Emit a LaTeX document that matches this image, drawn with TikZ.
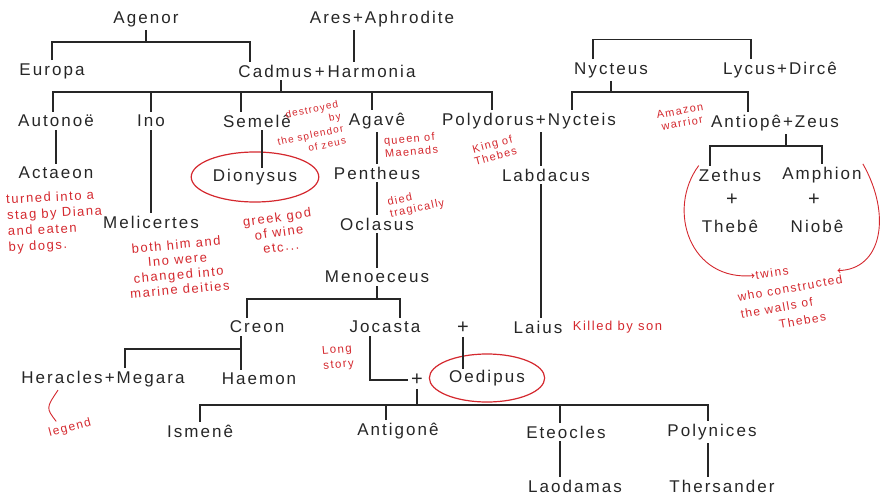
\documentclass[tikz,border=0pt]{standalone}
\usepackage{fontspec}
\usepackage{tikz}
\usetikzlibrary{shapes.geometric,positioning}
\newfontfamily\handfont[LetterSpace=12]{Liberation Sans}
\newfontfamily\notefont[LetterSpace=12]{Liberation Sans}
\definecolor{ink}{RGB}{38,38,38}
\definecolor{pen}{RGB}{212,40,46}
\newcommand*{\couple}[2]{#1+#2}
\newcommand*{\notesize}[2]{\notefont\fontsize{#1}{#2}\selectfont}

\begin{document}
\begin{tikzpicture}[x=1pt, y=-1pt,
    tree/.style={draw=ink, line width=1.1pt},
    noteline/.style={draw=pen, line width=0.9pt},
    ring/.style={ellipse, draw=pen, line width=1.2pt}]
  \useasboundingbox (0,0) rectangle (880,500);

        {\tikzstyle{every node}=[font=\handfont\fontsize{17}{20}\selectfont, text=ink, inner sep=3pt]
          \node (agenor) at (146,19) {Agenor};
          \node (ares) at (382,19) {\couple{Ares}{Aphrodite}};
          \node (europa) at (52,71) {Europa};
          \node (cadmus) at (327,71) {\couple{Cadmus\,}{\,Harmonia}};
          \node (nycteus) at (611,70) {Nycteus};
          \node (lycus) at (780,70) {\couple{Lycus}{Dircê}};

          \node (autonoe) at (56,121) {Autonoë};
          \node (ino) at (151,121) {Ino};
          \node (semele) at (257,121) {Semelê};
          \node (agave) at (377,121) {Agavê};
          \node (polydorus) at (529,121) {\couple{Polydorus}{Nycteis}};
          \node (antiope) at (775,123) {\couple{Antiopê}{Zeus}};

          \node (actaeon) at (56,173) {Actaeon};
          \node[ring, minimum width=112pt, minimum height=50pt] (dionysus) at (255,177) {Dionysus};
          \node (pentheus) at (377,173) {Pentheus};
          \node (labdacus) at (546,175) {Labdacus};
          \node (zethus) at (730,175) {Zethus};
          \node (amphion) at (822,175) {Amphion};
          \node[font=\handfont\fontsize{20}{20}\selectfont] (zplus) at (732,200) {+};
          \node[font=\handfont\fontsize{20}{20}\selectfont] (aplus) at (814,200) {+};
          \node (thebe) at (730,226) {Thebê};
          \node (niobe) at (817,226) {Niobê};

          \node (melicertes) at (151,222) {Melicertes};
          \node (oclasus) at (377,224) {Oclasus};
          \node (menoeceus) at (377,277) {Menoeceus};

          \node (creon) at (257,327) {Creon};
          \node (jocasta) at (385,327) {Jocasta};
          \node[font=\handfont\fontsize{20}{20}\selectfont] (wedplus) at (463,328) {+};
          \node (laius) at (538,327) {Laius};

          \node (heracles) at (103,379) {\couple{Heracles}{Megara}};
          \node (haemon) at (259,379) {Haemon};
          \node[font=\handfont\fontsize{20}{20}\selectfont] (sonplus) at (417,380) {+};
          \node[ring, minimum width=95pt, minimum height=48pt] (oedipus) at (487,378) {Oedipus};

          \node (ismene) at (200,431) {Ismenê};
          \node (antigone) at (398,431) {Antigonê};
          \node (eteocles) at (566,432) {Eteocles};
          \node (polynices) at (712,432) {Polynices};
          \node (laodamas) at (575,486) {Laodamas};
          \node (thersander) at (722,486) {Thersander};
        }

        % red notes
        {\tikzstyle{every node}=[font=\notesize{13}{16}, text=pen, inner sep=1pt, align=left]
          \node[rotate=3] (actaeonnote) at (55,222) {turned into a\\stag by Diana\\and eaten\\by dogs.};
          \node[rotate=5, align=center, font=\notesize{13}{15}] (melicertesnote) at (178,267) {both him and\\Ino were\\changed into\\marine deities};
          \node[rotate=12, align=right, font=\notesize{10}{12.5}] (semelenote) at (309,129) {destroyed\\by\\the splendor\\of zeus};
          \node[rotate=8, align=center, font=\notesize{13}{15}] (dionysusnote) at (279,232) {greek god\\of wine\\etc...};
          \node[rotate=5, font=\notesize{11}{13}] (agavenote) at (411,145) {queen of\\Maenads};
          \node[rotate=12, font=\notesize{11}{12}] (pentheusnote) at (416,203) {died\\tragically};
          \node[rotate=15, align=center, font=\notesize{11}{12.5}] (polydorusnote) at (494,150) {King of\\Thebes};
          \node[rotate=10, align=center, font=\notesize{11}{12.5}] (antiopenote) at (681,117) {Amazon\\warrior};
          \node[right=6pt of laius] (laiusnote) {Killed by son};
          \node[rotate=5, font=\notesize{11.5}{15}] (jocastanote) at (338,358) {Long\\story};
          \node[rotate=15, font=\notesize{12}{12}] (legend) at (70,428) {legend};
          \node[rotate=8, font=\notesize{12}{12}] (twins) at (772,273) {twins};
          \node[rotate=10, font=\notesize{12}{17}] (wallsnote) at (793,305) {who constructed\\the walls of\\\hspace*{3em}Thebes};
        }

        \coordinate (agenorbar) at (146,42);
        \coordinate (cadmusbar) at (281,92);
        \coordinate (nycteusbar) at (611,92);
        \coordinate (antiopebar) at (786,146);
        \coordinate (menbar) at (377,299);
        \coordinate (creonbar) at (241,349);
        \coordinate (kidsbar) at (417,405);

        \draw[tree]
          (agenor) -- (agenorbar)
          (europa.north) |- (agenorbar) -| ([xshift=-77pt]cadmus.north)
          ([xshift=-28pt]ares.south) -- ([xshift=27pt]cadmus.north)
          ([xshift=-18pt]nycteus.north) -- ++(0,-20) -| ([xshift=-29pt]lycus.north);

        \draw[tree]
          ([xshift=-46pt]cadmus.south) -- (cadmusbar)
          ([xshift=-3pt]autonoe.north) |- (cadmusbar) -| ([xshift=-37pt]polydorus.north)
          (nycteus) -- (nycteusbar)
          ([xshift=43pt]polydorus.north) |- (nycteusbar) -| ([xshift=-27pt]antiope.north);
        \foreach \n/\s in {ino/0, semele/-16, agave/-5}
          \draw[tree] ([xshift=\s pt]\n.north) -- ([xshift=\s pt]\n.north |- cadmusbar);

        \draw[tree]
          (autonoe) -- (actaeon)
          (ino) -- (melicertes)
          (agave) -- (pentheus)
          (pentheus) -- (oclasus)
          (oclasus) -- (menoeceus)
          ([xshift=12pt]polydorus.south) -- ([xshift=-5pt]labdacus.north)
          ([xshift=-5pt]labdacus.south) -- ([xshift=3pt]laius.north)
          ([xshift=11pt]antiope.south) -- (antiopebar)
          ([xshift=-20pt]zethus.north) |- (antiopebar) -| (amphion.north);
        \draw[tree, shorten >=9pt] ([xshift=5pt]semele.south) -- ([xshift=7pt]dionysus.center);

        \draw[tree]
          (menoeceus) -- (menbar)
          ([xshift=-10pt]creon.north) |- (menbar) -| ([xshift=15pt]jocasta.north)
          ([xshift=-16pt]creon.south) -- (creonbar)
          ([xshift=22pt]heracles.north) |- (creonbar) -- ([xshift=-18pt]haemon.north)
          ([xshift=-15pt]jocasta.south) |- (sonplus);
        \draw[tree, shorten >=9pt] (wedplus) -- ([xshift=-24pt]oedipus.center);

        \draw[tree]
          (sonplus) -- (kidsbar)
          (ismene.north) |- (kidsbar) -| ([xshift=-4pt]polynices.north)
          ([xshift=-12pt]antigone.north) -- ([xshift=-12pt]antigone.north |- kidsbar)
          ([xshift=-6pt]eteocles.north) -- ([xshift=-6pt]eteocles.north |- kidsbar)
          ([xshift=-6pt]eteocles.south) -- ([xshift=-15pt]laodamas.north)
          ([xshift=-4pt]polynices.south) -- ([xshift=-14pt]thersander.north);

        \draw[noteline, ->] ([xshift=3pt]zethus.north west) .. controls (666,210) and (690,282) .. (twins.west);
        \draw[noteline, ->] ([xshift=-2pt]amphion.north east) .. controls (892,215) and (882,270) .. ([xshift=48pt]twins.east);
        \draw[noteline] ([xshift=-12pt]legend.north) .. controls (46,408) .. ([xshift=-45pt]heracles.south);
      \end{tikzpicture}
\end{document}
